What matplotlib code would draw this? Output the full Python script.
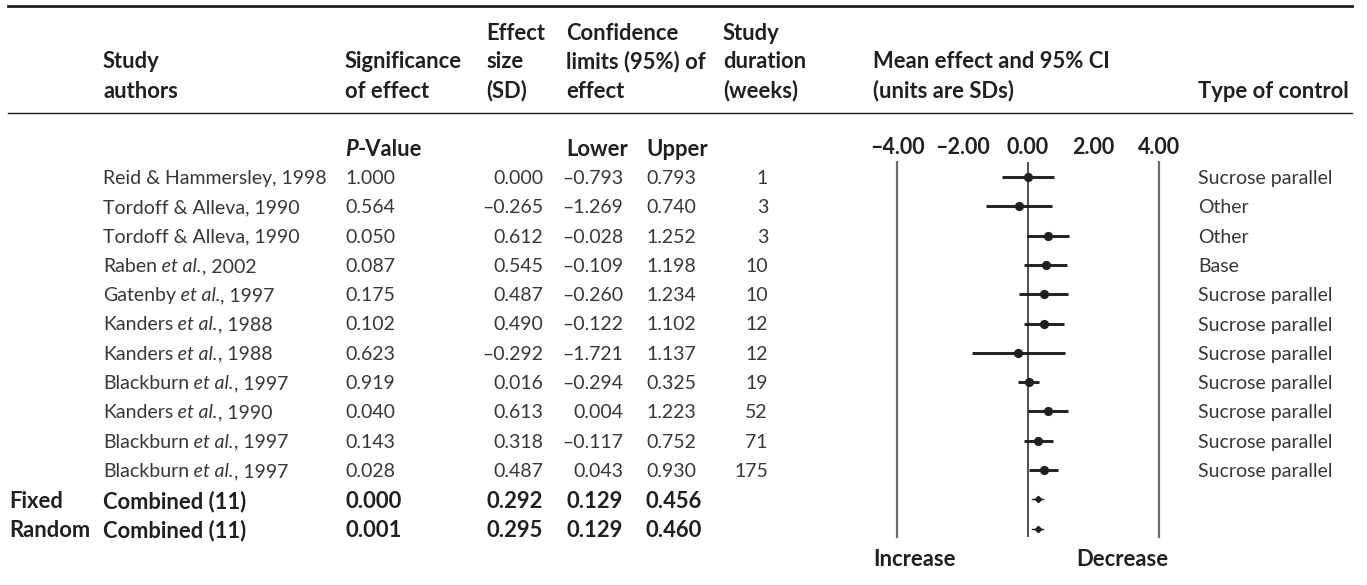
import matplotlib
matplotlib.use("Agg")
import matplotlib.pyplot as plt
from matplotlib.lines import Line2D
from matplotlib.transforms import blended_transform_factory

# study rows
authors = ["Reid & Hammersley, 1998", "Tordoff & Alleva, 1990", "Tordoff & Alleva, 1990",
           "Raben et al., 2002", "Gatenby et al., 1997", "Kanders et al., 1988",
           "Kanders et al., 1988", "Blackburn et al., 1997", "Kanders et al., 1990",
           "Blackburn et al., 1997", "Blackburn et al., 1997"]
p_values = [1.000, 0.564, 0.050, 0.087, 0.175, 0.102, 0.623, 0.919, 0.040, 0.143, 0.028]
effect = [0.000, -0.265, 0.612, 0.545, 0.487, 0.490, -0.292, 0.016, 0.613, 0.318, 0.487]
lower = [-0.793, -1.269, -0.028, -0.109, -0.260, -0.122, -1.721, -0.294, 0.004, -0.117, 0.043]
upper = [0.793, 0.740, 1.252, 1.198, 1.234, 1.102, 1.137, 0.325, 1.223, 0.752, 0.930]
weeks = [1, 3, 3, 10, 10, 12, 12, 19, 52, 71, 175]
controls = ["Sucrose parallel", "Other", "Other", "Base", "Sucrose parallel",
            "Sucrose parallel", "Sucrose parallel", "Sucrose parallel",
            "Sucrose parallel", "Sucrose parallel", "Sucrose parallel"]

# pooled rows
models = ["Fixed", "Random"]
comb_label = "Combined (11)"
comb_p = [0.000, 0.001]
comb_effect = [0.292, 0.295]
comb_lower = [0.129, 0.129]
comb_upper = [0.456, 0.460]

ticks = [-4, -2, 0, 2, 4]

W, H = 1367, 585
ink = "#231f20"
body_ink = "#3a3637"
grey = "#6d6d6d"
fs = 14      # body text
fsb = 15.8   # bold text

plt.rcParams["font.family"] = ["Lato", "DejaVu Sans"]
plt.rcParams["text.color"] = ink

fig = plt.figure(figsize=(W / 100, H / 100), dpi=100)


def fx(px):
    return px / W


def fy(py):
    return 1 - py / H


def num(v):
    return f"{v:.3f}".replace("-", "\u2013")


# forest panel, grey side lines are the -4 / 4 limits
row_h = 29.3
ax = fig.add_axes([fx(897), fy(537), fx(1159) - fx(897), fy(162) - fy(537)])
ax.set_xlim(-4, 4)
ax.set_ylim((537 - 177) / row_h, -(177 - 162) / row_h)
for s in ["top", "bottom"]:
    ax.spines[s].set_visible(False)
for s in ["left", "right"]:
    ax.spines[s].set_color(grey)
    ax.spines[s].set_linewidth(1.6)
ax.set_yticks([])
ax.xaxis.tick_top()
ax.set_xticks(ticks)
ax.set_xticklabels([f"{t:.2f}".replace("-", "\u2013") for t in ticks],
                   fontweight="bold", fontsize=15.5, color=ink)
ax.tick_params(axis="x", length=0, pad=3)
ax.axvline(0, color=ink, lw=1.1)
ax.patch.set_alpha(0)

for i in range(len(authors)):
    ax.plot([lower[i], upper[i]], [i, i], color=ink, lw=2.1, solid_capstyle="butt")
    ax.plot(effect[i], i, "o", color=ink, ms=5.6)
for j in range(len(models)):
    r = len(authors) + j
    ax.plot([comb_lower[j], comb_upper[j]], [r, r], color=ink, lw=1.0)
    ax.plot(comb_effect[j], r, "D", color=ink, ms=3.2)

trans = blended_transform_factory(fig.transFigure, ax.transData)


def chain(x, y, parts, transform, weight="normal", size=fs, color=body_ink):
    t = fig.text(x, y, parts[0][0], transform=transform, fontsize=size, color=color,
                 fontweight=weight, style=parts[0][1], va="center_baseline")
    for s, st in parts[1:]:
        t = ax.annotate(s, xy=(1, 0), xycoords=t, ha="left", va="bottom", color=color,
                        fontsize=size, fontweight=weight, style=st)
    return t


def author_parts(name):
    if " et al." in name:
        a, b = name.split(" et al.")
        return [(a, "normal"), (" et al.", "italic"), (b, "normal")]
    return [(name, "normal")]


body = dict(transform=trans, fontsize=fs, color=body_ink, va="center_baseline")
for i in range(len(authors)):
    chain(fx(103), i, author_parts(authors[i]), trans)
    fig.text(fx(345), i, num(p_values[i]), **body)
    fig.text(fx(543), i, num(effect[i]), ha="right", **body)
    fig.text(fx(623), i, num(lower[i]), ha="right", **body)
    fig.text(fx(646), i, num(upper[i]), **body)
    fig.text(fx(768), i, str(weeks[i]), ha="right", **body)
    fig.text(fx(1198), i, controls[i], **body)

bold = dict(transform=trans, fontsize=fsb, fontweight="bold", va="center_baseline")
for j in range(len(models)):
    r = len(authors) + j
    fig.text(fx(9), r, models[j], **bold)
    fig.text(fx(103), r, comb_label, **bold)
    fig.text(fx(345), r, num(comb_p[j]), **bold)
    fig.text(fx(543), r, num(comb_effect[j]), ha="right", **bold)
    fig.text(fx(623), r, num(comb_lower[j]), ha="right", **bold)
    fig.text(fx(646), r, num(comb_upper[j]), **bold)

# header block
header = [
    (486, 31, "Effect"), (566, 31, "Confidence"), (723, 31, "Study"),
    (103, 60, "Study"), (345, 60, "Significance"), (486, 60, "size"),
    (566, 60, "limits (95%) of"), (723, 60, "duration"), (873, 60, "Mean effect and 95% CI"),
    (103, 89, "authors"), (345, 89, "of effect"), (486, 89, "(SD)"), (566, 89, "effect"),
    (723, 89, "(weeks)"), (873, 89, "(units are SDs)"), (1198, 89, "Type of control"),
    (566, 148, "Lower"), (646, 148, "Upper"),
    (873, 558, "Increase"), (1076, 558, "Decrease"),
]
for x, y, s in header:
    fig.text(fx(x), fy(y), s, fontsize=fsb, fontweight="bold", va="center_baseline")
chain(fx(345), fy(148), [("P", "italic"), ("-Value", "normal")], fig.transFigure,
      weight="bold", size=fsb, color=ink)

fig.add_artist(Line2D([fx(8), fx(1352)], [fy(6), fy(6)], color=ink, lw=2.0))
fig.add_artist(Line2D([fx(8), fx(1352)], [fy(113), fy(113)], color=ink, lw=1.0))

fig.savefig("out.png", dpi=100)
